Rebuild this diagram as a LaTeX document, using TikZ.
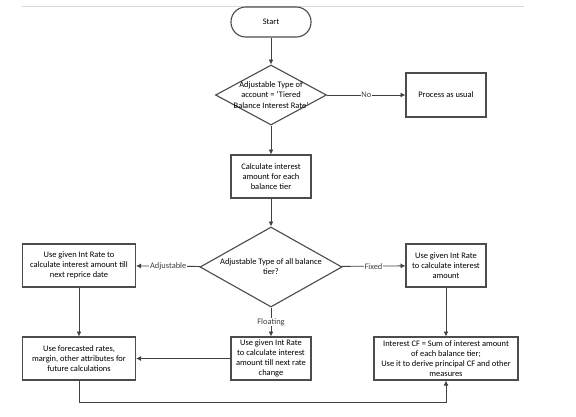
\documentclass[tikz,border=0pt]{standalone}
\usepackage{fontspec}
\setmainfont{Carlito}
\usetikzlibrary{shapes.geometric,arrows.meta}

\begin{document}
\begin{tikzpicture}[x=0.025cm, y=-0.025cm,
  every node/.style={font=\fontsize{6}{7.2}\selectfont, align=center},
  box/.style={draw=black!70, thick, rectangle, inner sep=0pt, minimum height=1.075cm},
  terminal/.style={draw=black!70, thick, rectangle, rounded corners=0.37cm, inner sep=0pt, minimum width=2cm, minimum height=0.75cm},
  decision/.style={draw=black!70, thick, diamond, inner sep=0pt},
  arr/.style={-{Latex[length=3.5pt,width=3.5pt]}, black!75, semithick},
  lbl/.style={fill=white, inner sep=0.5pt}]
\useasboundingbox (0,0) rectangle (576,416);
\draw[black!15] (22,6) -- (524,6);

% Top part
\node[terminal] (start) at (271,22) {Start};
\node[decision, minimum width=2.775cm, minimum height=1.5cm] (dec1) at (271,95) {};
\node (dec1txt) at (271,95) {Adjustable Type of\\account = `Tiered\\Balance Interest Rate'};
\node[box, minimum width=2cm, minimum height=1.1cm] (usual) at (446,95) {Process as usual};
\node[box, minimum width=2cm] (calc) at (271,176.5) {Calculate interest\\amount for each\\balance tier};

% Balance tier types
\node[decision, minimum width=3.55cm, minimum height=2cm] (dec2) at (271,267) {};
\node (dec2txt) at (271,267) {Adjustable Type of all balance\\tier?};
\node[box, minimum width=2.825cm] (adjust) at (79,265.5) {Use given Int Rate to\\calculate interest amount till\\next reprice date};
\node[box, minimum width=2cm] (fixed) at (446,265.5) {Use given Int Rate\\to calculate interest\\amount};
\node[box, minimum width=2cm] (float) at (271,358.5) {Use given Int Rate\\to calculate interest\\amount till next rate\\change};
\node[box, minimum width=2.825cm] (fore) at (79,358.5) {Use forecasted rates,\\margin, other attributes for\\future calculations};
\node[box, minimum width=3.6cm] (cf) at (446,358.5) {Interest CF = Sum of interest amount\\of each balance tier;\\Use it to derive principal CF and other\\measures};

% Arrows
\draw[arr] (start) -- (dec1);
\draw[arr] (dec1) -- node[lbl] {No} (usual);
\draw[arr] (dec1) -- (calc);
\draw[arr] (calc) -- (dec2);
\draw[arr] (dec2) -- node[lbl] {Adjustable} (adjust);
\draw[arr] (dec2) -- node[lbl] {Fixed} (fixed);
\draw[arr] (dec2) -- node[lbl] {Floating} (float);
\draw[arr] (adjust) -- (fore);
\draw[arr] (float) -- (fore);
\draw[arr] (fixed) -- (cf);
\draw[arr] (fore.south) -- ++(0,22) -| (cf.south);
\end{tikzpicture}
\end{document}
